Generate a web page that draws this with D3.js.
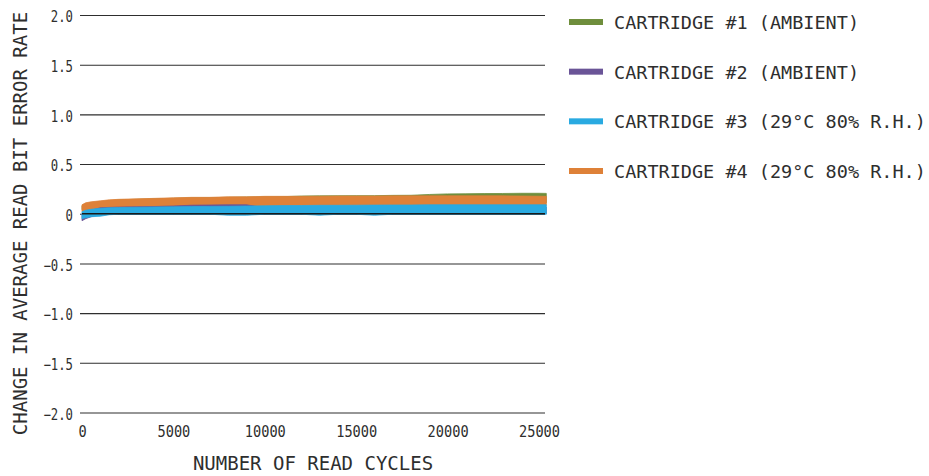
<!DOCTYPE html>
<html>
<head>
<meta charset="utf-8">
<script src="https://cdn.jsdelivr.net/npm/d3@7"></script>
<style>
  html, body { margin: 0; padding: 0; background: #ffffff; }
  svg { display: block; }
  text { font-family: "DejaVu Sans Mono", "Liberation Mono", monospace; fill: #2e2e2e; }
</style>
</head>
<body>
<svg id="chart" width="929" height="476"></svg>
<script>
// Read cycles at which each cartridge's error-rate band is sampled
const cycles = [0, 200, 500, 1000, 1500, 2000, 3000, 4000, 5000, 6000, 7000, 8000, 9000,
  10000, 11000, 12000, 13000, 14000, 15000, 16000, 17000, 18000, 19000, 20000,
  21000, 22000, 23000, 24000, 25000, 25400];

// Upper / lower envelope of the scattered readings for each cartridge
const cart1High = [0.08, 0.10, 0.11, 0.12, 0.13, 0.14, 0.145, 0.15, 0.155, 0.16, 0.162, 0.165, 0.168,
  0.17, 0.172, 0.178, 0.18, 0.181, 0.182, 0.182, 0.185, 0.186, 0.194, 0.20,
  0.201, 0.203, 0.204, 0.206, 0.206, 0.205];
const cart1Low = [0.04, 0.05, 0.06, 0.07, 0.08, 0.08, 0.08, 0.085, 0.09, 0.09, 0.09, 0.09, 0.09,
  0.095, 0.095, 0.10, 0.10, 0.10, 0.10, 0.10, 0.10, 0.10, 0.105, 0.11,
  0.11, 0.11, 0.11, 0.11, 0.11, 0.11];

const cart2High = [0.0, 0.02, 0.035, 0.06, 0.064, 0.067, 0.07, 0.073, 0.078, 0.086, 0.088, 0.09, 0.09,
  0.06, 0.06, 0.062, 0.062, 0.063, 0.064, 0.065, 0.065, 0.066, 0.066, 0.067,
  0.067, 0.068, 0.068, 0.068, 0.068, 0.068];
const cart2Low = [-0.07, -0.05, -0.03, -0.01, -0.005, 0.0, 0.0, 0.0, 0.0, 0.0, 0.0, 0.0, 0.0,
  0.0, 0.0, 0.0, 0.0, 0.0, 0.0, 0.0, 0.0, 0.0, 0.0, 0.0,
  0.0, 0.0, 0.0, 0.0, 0.0, 0.0];

const cart3High = [0.02, 0.035, 0.045, 0.055, 0.06, 0.062, 0.065, 0.068, 0.07, 0.072, 0.074, 0.075, 0.078,
  0.08, 0.082, 0.083, 0.085, 0.085, 0.086, 0.087, 0.088, 0.088, 0.09, 0.09,
  0.09, 0.09, 0.09, 0.09, 0.09, 0.09];
const cart3Low = [-0.05, -0.04, -0.03, -0.025, -0.01, -0.005, -0.005, -0.005, -0.005, -0.005, -0.005, -0.015, -0.015,
  -0.005, -0.005, -0.005, -0.015, -0.005, -0.005, -0.015, -0.005, -0.005, -0.005, -0.005,
  -0.005, -0.005, -0.005, -0.005, -0.005, -0.005];

const cart4High = [0.09, 0.11, 0.12, 0.13, 0.14, 0.145, 0.15, 0.155, 0.16, 0.165, 0.165, 0.17, 0.17,
  0.175, 0.175, 0.175, 0.176, 0.178, 0.178, 0.178, 0.18, 0.18, 0.18, 0.18,
  0.18, 0.18, 0.18, 0.178, 0.176, 0.175];
const cart4Low = [0.02, 0.03, 0.04, 0.05, 0.055, 0.06, 0.06, 0.065, 0.065, 0.07, 0.07, 0.07, 0.075,
  0.075, 0.078, 0.08, 0.08, 0.08, 0.082, 0.082, 0.084, 0.085, 0.085, 0.085,
  0.085, 0.085, 0.085, 0.085, 0.085, 0.085];

const seriesNames = ["CARTRIDGE #1 (AMBIENT)", "CARTRIDGE #2 (AMBIENT)",
  "CARTRIDGE #3 (29°C 80% R.H.)", "CARTRIDGE #4 (29°C 80% R.H.)"];
const seriesColors = ["#6f8e3c", "#6a5497", "#29aae1", "#de8138"];

const yTicks = [2.0, 1.5, 1.0, 0.5, 0, -0.5, -1.0, -1.5, -2.0];
const xTicks = [0, 5000, 10000, 15000, 20000, 25000];

const yTitle = "CHANGE IN AVERAGE READ BIT ERROR RATE";
const xTitle = "NUMBER OF READ CYCLES";

const svg = d3.select("#chart");

const x = d3.scaleLinear().domain([0, 25000]).range([82, 539]);
const y = d3.scaleLinear().domain([-2, 2]).range([412.5, 15]);
const gridLeft = 80, gridRight = 545;

const yFmt = d => d === 0 ? "0" : d3.format(".1f")(d);

// Horizontal grid lines with value labels
const yAxis = d3.axisLeft(y)
  .tickValues(yTicks)
  .tickSize(-(gridRight - gridLeft))
  .tickPadding(8)
  .tickFormat(yFmt);

const gy = svg.append("g")
  .attr("transform", `translate(${gridLeft},0)`)
  .call(yAxis);
gy.select(".domain").remove();
gy.selectAll(".tick line").attr("stroke", "#2e2e2e").attr("stroke-width", 1.1);
gy.selectAll(".tick text")
  .attr("font-size", 15)
  .attr("dy", "0.45em")
  .attr("x", -7)
  .attr("textLength", d => yFmt(d).length * 7.4)
  .attr("lengthAdjust", "spacingAndGlyphs");

// Bottom value labels (no axis line)
const xAxis = d3.axisBottom(x)
  .tickValues(xTicks)
  .tickSize(0)
  .tickPadding(0)
  .tickFormat(d3.format("d"));
const gx = svg.append("g")
  .attr("transform", `translate(0,${y(-2)})`)
  .call(xAxis);
gx.select(".domain").remove();
gx.selectAll(".tick text")
  .attr("font-size", 15)
  .attr("y", 24)
  .attr("dy", 0)
  .attr("textLength", d => String(d).length * 8.2)
  .attr("lengthAdjust", "spacingAndGlyphs");

// Bands of readings per cartridge, back to front
const highs = [cart1High, cart2High, cart3High, cart4High];
const lows = [cart1Low, cart2Low, cart3Low, cart4Low];
const drawOrder = [0, 3, 1, 2];

const area = d3.area()
  .x(d => x(d.c))
  .y0(d => y(d.lo))
  .y1(d => y(d.hi))
  .curve(d3.curveLinear);

const bands = svg.append("g");
drawOrder.forEach(i => {
  const rows = cycles.map((c, k) => ({ c, lo: lows[i][k], hi: highs[i][k] }));
  bands.append("path")
    .datum(rows)
    .attr("d", area)
    .attr("fill", seriesColors[i])
    .attr("stroke", seriesColors[i])
    .attr("stroke-width", 0.8);
});

// Zero line sits on top of the data
svg.append("line")
  .attr("x1", x(0)).attr("x2", gridRight)
  .attr("y1", y(0)).attr("y2", y(0))
  .attr("stroke", "#1a1a1a")
  .attr("stroke-width", 1.6);

// Axis titles
svg.append("text")
  .attr("transform", `translate(27,${(12 + 435) / 2}) rotate(-90)`)
  .attr("text-anchor", "middle")
  .attr("font-size", 19)
  .text(yTitle);

svg.append("text")
  .attr("x", 313)
  .attr("y", 470)
  .attr("text-anchor", "middle")
  .attr("font-size", 19)
  .text(xTitle);

// Legend
const legend = svg.append("g");
const legendRow = d3.scaleLinear().domain([0, 3]).range([22, 171]);
seriesNames.forEach((name, i) => {
  const cy = legendRow(i);
  legend.append("rect")
    .attr("x", 569).attr("y", cy - 3)
    .attr("width", 34).attr("height", 6)
    .attr("fill", seriesColors[i]);
  legend.append("text")
    .attr("x", 614)
    .attr("y", cy + 7)
    .attr("font-size", 18.5)
    .text(name);
});
</script>
</body>
</html>
